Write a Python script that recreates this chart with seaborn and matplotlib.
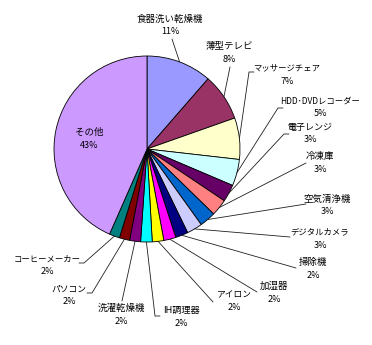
import matplotlib
matplotlib.use("Agg")
import matplotlib.pyplot as plt
import seaborn as sns
import numpy as np

sns.set_theme(style="white")
plt.rcParams['font.family'] = ['Noto Sans CJK JP', 'DejaVu Sans']

categories = ["食器洗い乾燥機", "薄型テレビ", "マッサージチェア", "HDD･DVDレコーダー",
              "電子レンジ", "冷凍庫", "空気清浄機", "デジタルカメラ", "掃除機", "加湿器",
              "アイロン", "IH調理器", "洗濯乾燥機", "パソコン", "コーヒーメーカー", "その他"]
values = [11.4, 8.2, 7.2, 4.6, 3.0, 2.9, 2.8, 2.7, 2.2, 2.1, 2.0, 2.0, 1.9, 1.8, 1.8, 43.4]
pct_labels = ["11%", "8%", "7%", "5%", "3%", "3%", "3%", "3%", "2%", "2%",
              "2%", "2%", "2%", "2%", "2%", "43%"]
colors = ["#9999FF", "#993366", "#FFFFCC", "#CCFFFF", "#660066", "#FF8080", "#0066CC",
          "#CCCCFF", "#000080", "#FF00FF", "#FFFF00", "#00FFFF", "#800080", "#800000",
          "#008080", "#CC99FF"]

W, H = 372, 345
fig = plt.figure(figsize=(W / 100, H / 100), dpi=100)
ax = fig.add_axes([0, 0, 1, 1])

def Y(py):
    return H - py

cx, cy, R = 147, 149, 93
wedges, _ = ax.pie(values, colors=colors, startangle=90, counterclock=False,
                   center=(cx, Y(cy)), radius=R, frame=True,
                   wedgeprops=dict(edgecolor="black", linewidth=0.6))
ax.set_xlim(0, W)
ax.set_ylim(0, H)
ax.set_aspect('equal')
ax.axis('off')

# label text centers (name line) in pixel coords, leader corner points, tick direction
label_pos = [(170, 19), (229, 47), (287, 68), (320, 101), (310, 127), (320, 157),
             (327, 199), (320, 232), (313, 262), (274, 286), (234, 295), (181, 310),
             (121, 308), (69, 289), (47, 259), (89, 132)]
font_sizes = [6.8, 6.8, 6.0, 6.0, 6.5, 6.8, 6.8, 6.0, 6.8, 6.8, 6.3, 6.6,
              6.8, 6.3, 6.0, 6.8]
corners = [(172, 39), (230, 67), (249, 72), (278, 108), (284, 134), (306, 163),
           (306, 204), (290, 237), (296, 268), (257, 292), (213, 302), (155, 316),
           (122, 301), (92, 293), (84, 263), None]
tick_dir = [0, 0, 1, 1, 1, 0, 0, 0, 0, 0, 0, 1, 0, -1, -1, 0]

for i, w in enumerate(wedges):
    x, y = label_pos[i]
    fs = font_sizes[i]
    ax.text(x, Y(y), categories[i], ha='center', va='center', fontsize=fs, color='black')
    ax.text(x, Y(y + 13), pct_labels[i], ha='center', va='center', fontsize=6.5, color='black')
    if corners[i] is None:
        continue
    mid = np.deg2rad((w.theta1 + w.theta2) / 2)
    ex = cx + R * np.cos(mid)
    ey = Y(cy) + R * np.sin(mid)
    px, py = corners[i]
    xs, ys = [], []
    if tick_dir[i] != 0:
        xs.append(px + 5 * tick_dir[i])
        ys.append(Y(py))
    xs += [px, ex]
    ys += [Y(py), ey]
    ax.plot(xs, ys, color='#202020', linewidth=0.6)

fig.savefig("out.png", dpi=100)
